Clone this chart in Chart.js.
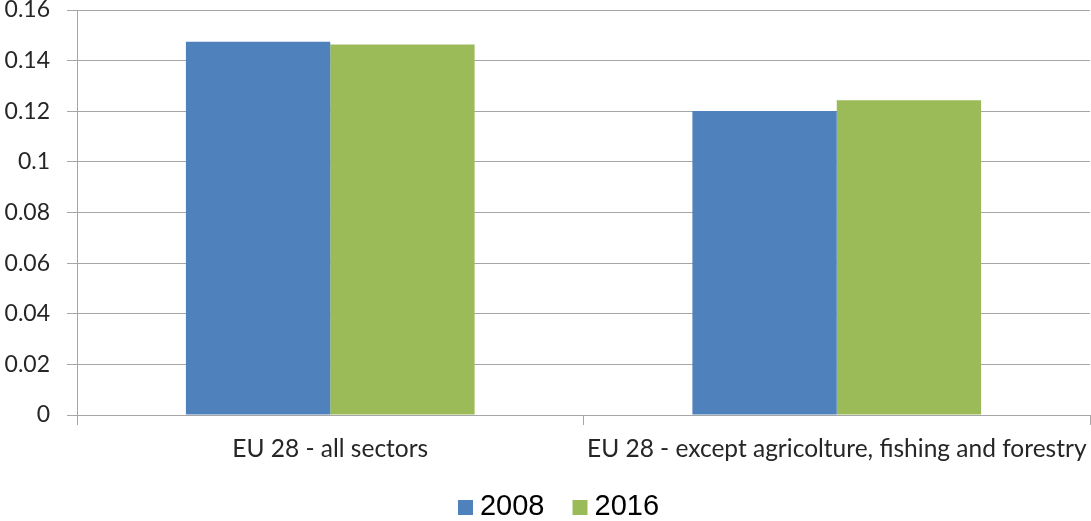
<!DOCTYPE html>
<html>
<head>
<meta charset="utf-8">
<script src="https://cdn.jsdelivr.net/npm/chart.js@4.4.1/dist/chart.umd.min.js"></script>
<style>
html,body{margin:0;padding:0;background:#fff;}
#wrap{width:1091px;height:521px;}
</style>
</head>
<body>
<div id="wrap"><canvas id="c" width="1091" height="521"></canvas></div>
<script>
const categories = ["EU 28 - all sectors", "EU 28 - except agricolture, fishing and forestry"];
const seriesNames = ["2008", "2016"];
const values2008 = [0.1475, 0.1201];
const values2016 = [0.1464, 0.1243];
const seriesColors = ["#4F81BD", "#9BBB59"];
const yMin = 0, yMax = 0.16, yStep = 0.02;

const textColor = "#262626";
const gridColor = "#A6A6A6";

const legendPlugin = {
  id: 'customLegend',
  afterDraw(chart) {
    const ctx = chart.ctx;
    const font = '29px "Liberation Sans", Arial, sans-serif';
    ctx.save();
    ctx.font = font;
    const box = 15, gap = 7, spacing = 28;
    const items = chart.data.datasets.map(d => ({text: d.label, color: d.backgroundColor, w: ctx.measureText(d.label).width}));
    let total = 0;
    items.forEach((it, i) => { total += box + gap + it.w + (i < items.length - 1 ? spacing : 0); });
    let x = chart.width / 2 + 13 - total / 2;
    const baseline = 515;
    items.forEach(it => {
      ctx.fillStyle = it.color;
      ctx.fillRect(x, baseline - box, box, box);
      x += box + gap;
      ctx.fillStyle = "#000";
      ctx.textBaseline = 'alphabetic';
      ctx.textAlign = 'left';
      ctx.fillText(it.text, x, baseline);
      x += it.w + spacing;
    });
    ctx.restore();
  }
};

new Chart(document.getElementById('c'), {
  type: 'bar',
  data: {
    labels: categories,
    datasets: [
      {label: seriesNames[0], data: values2008, backgroundColor: seriesColors[0], borderWidth: 0},
      {label: seriesNames[1], data: values2016, backgroundColor: seriesColors[1], borderWidth: 0}
    ]
  },
  options: {
    responsive: false,
    animation: false,
    devicePixelRatio: 1,
    layout: {padding: {top: 10, right: 1, bottom: 46, left: 0}},
    plugins: {legend: {display: false}, tooltip: {enabled: false}},
    datasets: {bar: {categoryPercentage: 0.57, barPercentage: 1.0}},
    scales: {
      x: {
        offset: true,
        grid: {offset: true, drawOnChartArea: false, drawTicks: true, tickLength: 10, color: gridColor, lineWidth: 1},
        border: {display: true, color: gridColor, width: 1},
        ticks: {color: textColor, font: {family: 'Lato, "Open Sans", sans-serif', size: 24.5}, padding: 9, maxRotation: 0, autoSkip: false},
        afterFit(s) { s.height = 60; s.paddingLeft = 0; s.paddingRight = 0; }
      },
      y: {
        min: yMin, max: yMax,
        ticks: {stepSize: yStep, color: textColor, font: {family: 'Lato, "Open Sans", sans-serif', size: 23}, padding: 17,
          callback: v => String(parseFloat(Number(v).toFixed(2)))},
        grid: {color: gridColor, lineWidth: 1, tickLength: 10, drawTicks: true},
        border: {display: true, color: gridColor, width: 1},
        afterFit(s) { s.width = 77; s.paddingTop = 0; s.paddingBottom = 0; }
      }
    }
  },
  plugins: [legendPlugin]
});
</script>
</body>
</html>
